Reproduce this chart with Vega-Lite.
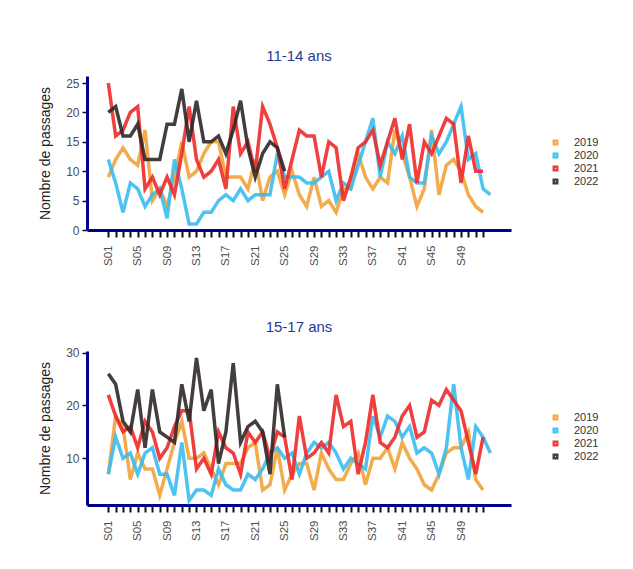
{
  "$schema": "https://vega.github.io/schema/vega-lite/v6.json",
  "background": "white",
  "padding": {"left": 38, "top": 49, "right": 5, "bottom": 5},
  "config": {
    "font": "Liberation Sans",
    "view": {"stroke": null},
    "axis": {"grid": false},
    "title": {"fontSize": 15, "fontWeight": "normal", "color": "#1F3A93", "offset": 12, "frame": "group", "anchor": "middle"},
    "axisY": {
      "titleFontSize": 14, "titleFontWeight": "normal", "titleColor": "#222222", "titlePadding": 13,
      "labelFontSize": 12, "labelColor": "#4d4d4d", "labelPadding": 3,
      "domainColor": "#00008B", "domainWidth": 3,
      "tickColor": "#111111", "tickWidth": 1.5, "tickSize": 5
    },
    "legend": {
      "title": null, "orient": "none", "legendX": 463, "legendY": 61,
      "symbolType": "square", "symbolSize": 12, "symbolStrokeWidth": 2.5,
      "labelFontSize": 11, "labelColor": "#333333", "labelOffset": 13, "rowPadding": 1, "clipHeight": 11
    }
  },
  "spacing": 53,
  "resolve": {"scale": {"color": "independent", "y": "independent", "x": "independent"}, "legend": {"color": "independent"}},
  "datasets": {
    "a": [
      {"an":"2019","sem":1,"n":9},{"an":"2019","sem":2,"n":12},{"an":"2019","sem":3,"n":14},{"an":"2019","sem":4,"n":12},{"an":"2019","sem":5,"n":11},{"an":"2019","sem":6,"n":17},{"an":"2019","sem":7,"n":5},{"an":"2019","sem":8,"n":7},{"an":"2019","sem":9,"n":4},{"an":"2019","sem":10,"n":9},
      {"an":"2019","sem":11,"n":15},{"an":"2019","sem":12,"n":9},{"an":"2019","sem":13,"n":10},{"an":"2019","sem":14,"n":13},{"an":"2019","sem":15,"n":15},{"an":"2019","sem":16,"n":15},{"an":"2019","sem":17,"n":9},{"an":"2019","sem":18,"n":9},{"an":"2019","sem":19,"n":9},{"an":"2019","sem":20,"n":7},
      {"an":"2019","sem":21,"n":12},{"an":"2019","sem":22,"n":5},{"an":"2019","sem":23,"n":9},{"an":"2019","sem":24,"n":10},{"an":"2019","sem":25,"n":6},{"an":"2019","sem":26,"n":10},{"an":"2019","sem":27,"n":6},{"an":"2019","sem":28,"n":4},{"an":"2019","sem":29,"n":9},{"an":"2019","sem":30,"n":4},
      {"an":"2019","sem":31,"n":5},{"an":"2019","sem":32,"n":3},{"an":"2019","sem":33,"n":7},{"an":"2019","sem":34,"n":7},{"an":"2019","sem":35,"n":13},{"an":"2019","sem":36,"n":9},{"an":"2019","sem":37,"n":7},{"an":"2019","sem":38,"n":9},{"an":"2019","sem":39,"n":8},{"an":"2019","sem":40,"n":17},
      {"an":"2019","sem":41,"n":13},{"an":"2019","sem":42,"n":9},{"an":"2019","sem":43,"n":4},{"an":"2019","sem":44,"n":7},{"an":"2019","sem":45,"n":17},{"an":"2019","sem":46,"n":6},{"an":"2019","sem":47,"n":11},{"an":"2019","sem":48,"n":12},{"an":"2019","sem":49,"n":10},{"an":"2019","sem":50,"n":6},
      {"an":"2019","sem":51,"n":4},{"an":"2019","sem":52,"n":3},
      {"an":"2020","sem":1,"n":12},{"an":"2020","sem":2,"n":8},{"an":"2020","sem":3,"n":3},{"an":"2020","sem":4,"n":8},{"an":"2020","sem":5,"n":7},{"an":"2020","sem":6,"n":4},{"an":"2020","sem":7,"n":6},{"an":"2020","sem":8,"n":7},{"an":"2020","sem":9,"n":2},{"an":"2020","sem":10,"n":12},
      {"an":"2020","sem":11,"n":7},{"an":"2020","sem":12,"n":1},{"an":"2020","sem":13,"n":1},{"an":"2020","sem":14,"n":3},{"an":"2020","sem":15,"n":3},{"an":"2020","sem":16,"n":5},{"an":"2020","sem":17,"n":6},{"an":"2020","sem":18,"n":5},{"an":"2020","sem":19,"n":7},{"an":"2020","sem":20,"n":5},
      {"an":"2020","sem":21,"n":6},{"an":"2020","sem":22,"n":6},{"an":"2020","sem":23,"n":6},{"an":"2020","sem":24,"n":13},{"an":"2020","sem":25,"n":9},{"an":"2020","sem":26,"n":9},{"an":"2020","sem":27,"n":9},{"an":"2020","sem":28,"n":8},{"an":"2020","sem":29,"n":8},{"an":"2020","sem":30,"n":9},
      {"an":"2020","sem":31,"n":10},{"an":"2020","sem":32,"n":5},{"an":"2020","sem":33,"n":8},{"an":"2020","sem":34,"n":7},{"an":"2020","sem":35,"n":11},{"an":"2020","sem":36,"n":15},{"an":"2020","sem":37,"n":19},{"an":"2020","sem":38,"n":9},{"an":"2020","sem":39,"n":15},{"an":"2020","sem":40,"n":13},
      {"an":"2020","sem":41,"n":16},{"an":"2020","sem":42,"n":9},{"an":"2020","sem":43,"n":8},{"an":"2020","sem":44,"n":8},{"an":"2020","sem":45,"n":16},{"an":"2020","sem":46,"n":13},{"an":"2020","sem":47,"n":15},{"an":"2020","sem":48,"n":18},{"an":"2020","sem":49,"n":21},{"an":"2020","sem":50,"n":12},
      {"an":"2020","sem":51,"n":13},{"an":"2020","sem":52,"n":7},{"an":"2020","sem":53,"n":6},
      {"an":"2021","sem":1,"n":25},{"an":"2021","sem":2,"n":16},{"an":"2021","sem":3,"n":17},{"an":"2021","sem":4,"n":20},{"an":"2021","sem":5,"n":21},{"an":"2021","sem":6,"n":7},{"an":"2021","sem":7,"n":9},{"an":"2021","sem":8,"n":6},{"an":"2021","sem":9,"n":9},{"an":"2021","sem":10,"n":6},
      {"an":"2021","sem":11,"n":13},{"an":"2021","sem":12,"n":21},{"an":"2021","sem":13,"n":12},{"an":"2021","sem":14,"n":9},{"an":"2021","sem":15,"n":10},{"an":"2021","sem":16,"n":12},{"an":"2021","sem":17,"n":7},{"an":"2021","sem":18,"n":21},{"an":"2021","sem":19,"n":13},{"an":"2021","sem":20,"n":15},
      {"an":"2021","sem":21,"n":10},{"an":"2021","sem":22,"n":21},{"an":"2021","sem":23,"n":18},{"an":"2021","sem":24,"n":14},{"an":"2021","sem":25,"n":7},{"an":"2021","sem":26,"n":12},{"an":"2021","sem":27,"n":17},{"an":"2021","sem":28,"n":16},{"an":"2021","sem":29,"n":16},{"an":"2021","sem":30,"n":9},
      {"an":"2021","sem":31,"n":15},{"an":"2021","sem":32,"n":14},{"an":"2021","sem":33,"n":5},{"an":"2021","sem":34,"n":9},{"an":"2021","sem":35,"n":14},{"an":"2021","sem":36,"n":15},{"an":"2021","sem":37,"n":17},{"an":"2021","sem":38,"n":11},{"an":"2021","sem":39,"n":15},{"an":"2021","sem":40,"n":19},
      {"an":"2021","sem":41,"n":12},{"an":"2021","sem":42,"n":18},{"an":"2021","sem":43,"n":8},{"an":"2021","sem":44,"n":15},{"an":"2021","sem":45,"n":13},{"an":"2021","sem":46,"n":16},{"an":"2021","sem":47,"n":19},{"an":"2021","sem":48,"n":18},{"an":"2021","sem":49,"n":8},{"an":"2021","sem":50,"n":16},
      {"an":"2021","sem":51,"n":10},{"an":"2021","sem":52,"n":10},
      {"an":"2022","sem":1,"n":20},{"an":"2022","sem":2,"n":21},{"an":"2022","sem":3,"n":16},{"an":"2022","sem":4,"n":16},{"an":"2022","sem":5,"n":18},{"an":"2022","sem":6,"n":12},{"an":"2022","sem":7,"n":12},{"an":"2022","sem":8,"n":12},{"an":"2022","sem":9,"n":18},{"an":"2022","sem":10,"n":18},
      {"an":"2022","sem":11,"n":24},{"an":"2022","sem":12,"n":15},{"an":"2022","sem":13,"n":22},{"an":"2022","sem":14,"n":15},{"an":"2022","sem":15,"n":15},{"an":"2022","sem":16,"n":16},{"an":"2022","sem":17,"n":13},{"an":"2022","sem":18,"n":17},{"an":"2022","sem":19,"n":22},{"an":"2022","sem":20,"n":14},
      {"an":"2022","sem":21,"n":9},{"an":"2022","sem":22,"n":13},{"an":"2022","sem":23,"n":15},{"an":"2022","sem":24,"n":14},{"an":"2022","sem":25,"n":10}
    ],
    "b": [
      {"an":"2019","sem":1,"n":7},{"an":"2019","sem":2,"n":18},{"an":"2019","sem":3,"n":16},{"an":"2019","sem":4,"n":6},{"an":"2019","sem":5,"n":11},{"an":"2019","sem":6,"n":8},{"an":"2019","sem":7,"n":8},{"an":"2019","sem":8,"n":3},{"an":"2019","sem":9,"n":8},{"an":"2019","sem":10,"n":13},
      {"an":"2019","sem":11,"n":17},{"an":"2019","sem":12,"n":10},{"an":"2019","sem":13,"n":10},{"an":"2019","sem":14,"n":11},{"an":"2019","sem":15,"n":8},{"an":"2019","sem":16,"n":5},{"an":"2019","sem":17,"n":9},{"an":"2019","sem":18,"n":9},{"an":"2019","sem":19,"n":9},{"an":"2019","sem":20,"n":12},
      {"an":"2019","sem":21,"n":13},{"an":"2019","sem":22,"n":4},{"an":"2019","sem":23,"n":5},{"an":"2019","sem":24,"n":12},{"an":"2019","sem":25,"n":4},{"an":"2019","sem":26,"n":7},{"an":"2019","sem":27,"n":9},{"an":"2019","sem":28,"n":9},{"an":"2019","sem":29,"n":4},{"an":"2019","sem":30,"n":11},
      {"an":"2019","sem":31,"n":8},{"an":"2019","sem":32,"n":6},{"an":"2019","sem":33,"n":6},{"an":"2019","sem":34,"n":9},{"an":"2019","sem":35,"n":11},{"an":"2019","sem":36,"n":5},{"an":"2019","sem":37,"n":10},{"an":"2019","sem":38,"n":10},{"an":"2019","sem":39,"n":12},{"an":"2019","sem":40,"n":8},
      {"an":"2019","sem":41,"n":13},{"an":"2019","sem":42,"n":10},{"an":"2019","sem":43,"n":8},{"an":"2019","sem":44,"n":5},{"an":"2019","sem":45,"n":4},{"an":"2019","sem":46,"n":7},{"an":"2019","sem":47,"n":11},{"an":"2019","sem":48,"n":12},{"an":"2019","sem":49,"n":12},{"an":"2019","sem":50,"n":15},
      {"an":"2019","sem":51,"n":6},{"an":"2019","sem":52,"n":4},
      {"an":"2020","sem":1,"n":7},{"an":"2020","sem":2,"n":14},{"an":"2020","sem":3,"n":10},{"an":"2020","sem":4,"n":11},{"an":"2020","sem":5,"n":7},{"an":"2020","sem":6,"n":11},{"an":"2020","sem":7,"n":12},{"an":"2020","sem":8,"n":7},{"an":"2020","sem":9,"n":7},{"an":"2020","sem":10,"n":3},
      {"an":"2020","sem":11,"n":13},{"an":"2020","sem":12,"n":2},{"an":"2020","sem":13,"n":4},{"an":"2020","sem":14,"n":4},{"an":"2020","sem":15,"n":3},{"an":"2020","sem":16,"n":8},{"an":"2020","sem":17,"n":5},{"an":"2020","sem":18,"n":4},{"an":"2020","sem":19,"n":4},{"an":"2020","sem":20,"n":7},
      {"an":"2020","sem":21,"n":6},{"an":"2020","sem":22,"n":8},{"an":"2020","sem":23,"n":11},{"an":"2020","sem":24,"n":12},{"an":"2020","sem":25,"n":10},{"an":"2020","sem":26,"n":11},{"an":"2020","sem":27,"n":7},{"an":"2020","sem":28,"n":11},{"an":"2020","sem":29,"n":13},{"an":"2020","sem":30,"n":12},
      {"an":"2020","sem":31,"n":13},{"an":"2020","sem":32,"n":11},{"an":"2020","sem":33,"n":8},{"an":"2020","sem":34,"n":10},{"an":"2020","sem":35,"n":9},{"an":"2020","sem":36,"n":8},{"an":"2020","sem":37,"n":18},{"an":"2020","sem":38,"n":14},{"an":"2020","sem":39,"n":18},{"an":"2020","sem":40,"n":17},
      {"an":"2020","sem":41,"n":14},{"an":"2020","sem":42,"n":16},{"an":"2020","sem":43,"n":11},{"an":"2020","sem":44,"n":12},{"an":"2020","sem":45,"n":11},{"an":"2020","sem":46,"n":7},{"an":"2020","sem":47,"n":12},{"an":"2020","sem":48,"n":24},{"an":"2020","sem":49,"n":12},{"an":"2020","sem":50,"n":6},
      {"an":"2020","sem":51,"n":16},{"an":"2020","sem":52,"n":14},{"an":"2020","sem":53,"n":11},
      {"an":"2021","sem":1,"n":22},{"an":"2021","sem":2,"n":18},{"an":"2021","sem":3,"n":15},{"an":"2021","sem":4,"n":16},{"an":"2021","sem":5,"n":12},{"an":"2021","sem":6,"n":17},{"an":"2021","sem":7,"n":15},{"an":"2021","sem":8,"n":10},{"an":"2021","sem":9,"n":12},{"an":"2021","sem":10,"n":16},
      {"an":"2021","sem":11,"n":19},{"an":"2021","sem":12,"n":19},{"an":"2021","sem":13,"n":8},{"an":"2021","sem":14,"n":10},{"an":"2021","sem":15,"n":7},{"an":"2021","sem":16,"n":15},{"an":"2021","sem":17,"n":12},{"an":"2021","sem":18,"n":11},{"an":"2021","sem":19,"n":7},{"an":"2021","sem":20,"n":15},
      {"an":"2021","sem":21,"n":13},{"an":"2021","sem":22,"n":15},{"an":"2021","sem":23,"n":10},{"an":"2021","sem":24,"n":15},{"an":"2021","sem":25,"n":14},{"an":"2021","sem":26,"n":6},{"an":"2021","sem":27,"n":18},{"an":"2021","sem":28,"n":10},{"an":"2021","sem":29,"n":11},{"an":"2021","sem":30,"n":13},
      {"an":"2021","sem":31,"n":11},{"an":"2021","sem":32,"n":22},{"an":"2021","sem":33,"n":16},{"an":"2021","sem":34,"n":17},{"an":"2021","sem":35,"n":7},{"an":"2021","sem":36,"n":13},{"an":"2021","sem":37,"n":22},{"an":"2021","sem":38,"n":13},{"an":"2021","sem":39,"n":12},{"an":"2021","sem":40,"n":14},
      {"an":"2021","sem":41,"n":18},{"an":"2021","sem":42,"n":20},{"an":"2021","sem":43,"n":14},{"an":"2021","sem":44,"n":15},{"an":"2021","sem":45,"n":21},{"an":"2021","sem":46,"n":20},{"an":"2021","sem":47,"n":23},{"an":"2021","sem":48,"n":21},{"an":"2021","sem":49,"n":19},{"an":"2021","sem":50,"n":13},
      {"an":"2021","sem":51,"n":7},{"an":"2021","sem":52,"n":14},
      {"an":"2022","sem":1,"n":26},{"an":"2022","sem":2,"n":24},{"an":"2022","sem":3,"n":17},{"an":"2022","sem":4,"n":15},{"an":"2022","sem":5,"n":23},{"an":"2022","sem":6,"n":12},{"an":"2022","sem":7,"n":23},{"an":"2022","sem":8,"n":15},{"an":"2022","sem":9,"n":14},{"an":"2022","sem":10,"n":13},
      {"an":"2022","sem":11,"n":24},{"an":"2022","sem":12,"n":17},{"an":"2022","sem":13,"n":29},{"an":"2022","sem":14,"n":19},{"an":"2022","sem":15,"n":23},{"an":"2022","sem":16,"n":9},{"an":"2022","sem":17,"n":15},{"an":"2022","sem":18,"n":28},{"an":"2022","sem":19,"n":13},{"an":"2022","sem":20,"n":16},
      {"an":"2022","sem":21,"n":17},{"an":"2022","sem":22,"n":15},{"an":"2022","sem":23,"n":7},{"an":"2022","sem":24,"n":24},{"an":"2022","sem":25,"n":14}
    ]
  },
  "vconcat": [
    {
      "width": 424,
      "height": 154,
      "title": "11-14 ans",
      "data": {"name": "a"},
      "mark": {"type": "line", "strokeWidth": 3.5, "opacity": 0.9},
      "encoding": {
        "x": {
          "field": "sem", "type": "quantitative",
          "scale": {"domain": [-1.9, 55.8], "nice": false, "zero": false},
          "axis": {
            "title": null,
            "values": [1,2,3,4,5,6,7,8,9,10,11,12,13,14,15,16,17,18,19,20,21,22,23,24,25,26,27,28,29,30,31,32,33,34,35,36,37,38,39,40,41,42,43,44,45,46,47,48,49,50,51,52],
            "labelExpr": "(datum.value - 1) % 4 === 0 ? 'S' + (datum.value < 10 ? '0' : '') + datum.value : ''",
            "labelAngle": -90, "labelOverlap": false, "labelBound": false,
            "labelFontSize": 11.5, "labelColor": "#4d4d4d", "labelPadding": 8,
            "domainColor": "#00008B", "domainWidth": 3,
            "tickColor": "#111111", "tickWidth": 2, "tickSize": 7
          }
        },
        "y": {
          "field": "n", "type": "quantitative",
          "scale": {"domain": [0, 26.2], "nice": false},
          "axis": {"title": "Nombre de passages", "values": [0,5,10,15,20,25]}
        },
        "color": {
          "field": "an", "type": "nominal",
          "scale": {"domain": ["2019","2020","2021","2022"], "range": ["#F2A33A","#38BDF0","#EE2A2A","#302828"]}
        }
      }
    },
    {
      "width": 424,
      "height": 154,
      "title": "15-17 ans",
      "data": {"name": "b"},
      "mark": {"type": "line", "strokeWidth": 3.5, "opacity": 0.9},
      "encoding": {
        "x": {
          "field": "sem", "type": "quantitative",
          "scale": {"domain": [-1.9, 55.8], "nice": false, "zero": false},
          "axis": {
            "title": null,
            "values": [1,2,3,4,5,6,7,8,9,10,11,12,13,14,15,16,17,18,19,20,21,22,23,24,25,26,27,28,29,30,31,32,33,34,35,36,37,38,39,40,41,42,43,44,45,46,47,48,49,50,51,52],
            "labelExpr": "(datum.value - 1) % 4 === 0 ? 'S' + (datum.value < 10 ? '0' : '') + datum.value : ''",
            "labelAngle": -90, "labelOverlap": false, "labelBound": false,
            "labelFontSize": 11.5, "labelColor": "#4d4d4d", "labelPadding": 8,
            "domainColor": "#00008B", "domainWidth": 3,
            "tickColor": "#111111", "tickWidth": 2, "tickSize": 7
          }
        },
        "y": {
          "field": "n", "type": "quantitative",
          "scale": {"domain": [1.17, 30.3], "nice": false, "zero": false},
          "axis": {"title": "Nombre de passages", "values": [10,20,30]}
        },
        "color": {
          "field": "an", "type": "nominal",
          "scale": {"domain": ["2019","2020","2021","2022"], "range": ["#F2A33A","#38BDF0","#EE2A2A","#302828"]}
        }
      }
    }
  ]
}
